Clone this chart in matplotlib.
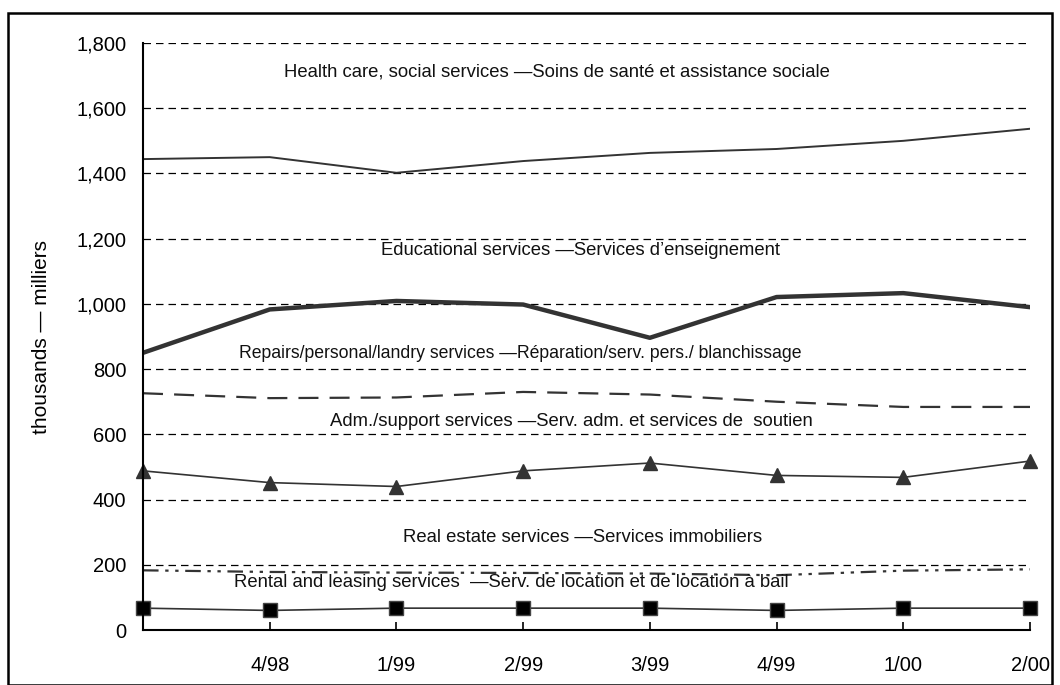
import matplotlib.pyplot as plt
from matplotlib.patches import Rectangle

plt.rcParams['font.family'] = ['Liberation Sans', 'DejaVu Sans']

# quarters (first one has no label)
quarters = ['', '4/98', '1/99', '2/99', '3/99', '4/99', '1/00', '2/00']

health = [1444, 1450, 1402, 1438, 1463, 1475, 1500, 1537]
education = [850, 983, 1009, 998, 896, 1021, 1033, 990]
repairs = [726, 711, 713, 730, 722, 700, 684, 684]
admin = [488, 452, 440, 488, 512, 474, 468, 518]
real_estate = [183, 178, 176, 175, 173, 168, 182, 186]
rental = [67, 60, 67, 67, 67, 60, 67, 67]

labels = {
    'health': 'Health care, social services \u2014Soins de sant\u00e9 et assistance sociale',
    'education': 'Educational services \u2014Services d\u2019enseignement',
    'repairs': 'Repairs/personal/landry services \u2014R\u00e9paration/serv. pers./ blanchissage',
    'admin': 'Adm./support services \u2014Serv. adm. et services de  soutien',
    'real_estate': 'Real estate services \u2014Services immobiliers',
    'rental': 'Rental and leasing services  \u2014Serv. de location et de location \u00e0 bail',
}

x = list(range(len(quarters)))

fig = plt.figure(figsize=(10.6, 6.85), dpi=100)
ax = fig.add_axes([143 / 1060, 1 - 630 / 685, 887 / 1060, 587 / 685])

# frame around the whole chart
fig.patches.append(Rectangle((8 / 1060, 0), 1044 / 1060, 1 - 13 / 685,
                             transform=fig.transFigure, fill=False,
                             edgecolor='black', linewidth=1.8))

line_col = '#333333'
ax.plot(x, health, color=line_col, linewidth=1.4)
ax.plot(x, education, color=line_col, linewidth=3.2)
ax.plot(x, repairs, color=line_col, linewidth=1.6, linestyle=(0, (9, 5)))
ax.plot(x, admin, color=line_col, linewidth=1.2, marker='^', markersize=10,
        markerfacecolor=line_col, markeredgecolor=line_col, clip_on=False)
ax.plot(x, real_estate, color=line_col, linewidth=1.6,
        linestyle=(0, (7, 3, 1.5, 3, 1.5, 3)))
ax.plot(x, rental, color=line_col, linewidth=1.2, marker='s', markersize=9.5,
        markerfacecolor='black', markeredgecolor='#444444', clip_on=False)

# series names written into the plot
txt = dict(ha='center', va='center', fontsize=13.3, color='#111111')
ax.text(3.27, 1711, labels['health'], **txt)
ax.text(3.45, 1163, labels['education'], **txt)
ax.text(2.98, 849, labels['repairs'], ha='center', va='center', fontsize=12.7, color='#111111')
ax.text(3.38, 640, labels['admin'], **txt)
ax.text(3.47, 285, labels['real_estate'], **txt)
ax.text(2.91, 147, labels['rental'], **txt)

ax.set_xlim(0, 7)
ax.set_ylim(0, 1800)
ax.set_yticks(range(0, 1801, 200))
ax.set_yticklabels([f'{v:,}' for v in range(0, 1801, 200)])
ax.set_xticks(x)
ax.set_xticklabels(quarters)

for v in range(200, 1801, 200):
    ax.axhline(v, color='black', linewidth=0.9, linestyle=(0, (6, 4)), zorder=0)

ax.spines['top'].set_visible(False)
ax.spines['right'].set_visible(False)
ax.spines['left'].set_linewidth(1.5)
ax.spines['bottom'].set_linewidth(1.5)
ax.tick_params(axis='x', direction='in', length=6, width=1.2, labelsize=14.5, pad=19)
ax.tick_params(axis='y', direction='out', length=0, labelsize=14.5, pad=12)
ax.set_ylabel('thousands \u2014 milliers', fontsize=15, labelpad=18)

fig.savefig('out.png', dpi=100)
